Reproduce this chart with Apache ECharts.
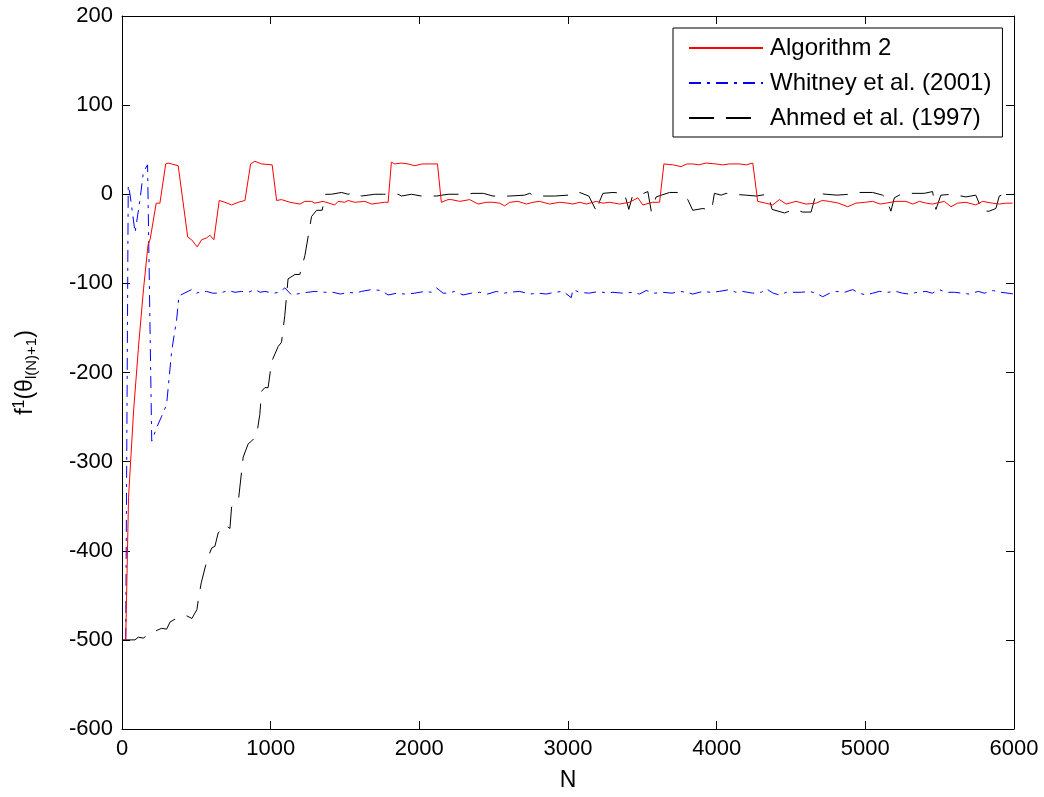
<!DOCTYPE html>
<html>
<head>
<meta charset="utf-8">
<script src="https://cdn.jsdelivr.net/npm/echarts@6/dist/echarts.min.js"></script>
<style>
  html, body { margin: 0; padding: 0; background: #fff; }
  #chart { width: 1044px; height: 797px; }
</style>
</head>
<body>
<div id="chart"></div>
<script>
// x ticks / y ticks
const xTicks = [0, 1000, 2000, 3000, 4000, 5000, 6000];
const yTicks = [-600, -500, -400, -300, -200, -100, 0, 100, 200];

// Algorithm 2
const algN = [25, 44, 78, 112, 145, 175, 190, 230, 255, 294, 310, 334, 378, 442, 468, 506, 536, 569, 591, 618,
  654, 692, 737, 782, 827, 865, 894, 939, 1010, 1040, 1073, 1129, 1196, 1230, 1275, 1297, 1353, 1431, 1454, 1499,
  1521, 1566, 1633, 1680, 1723, 1767, 1790, 1812, 1835, 1880, 1924, 1969, 2020, 2070, 2122, 2148, 2193, 2216, 2272, 2339,
  2395, 2450, 2495, 2540, 2574, 2608, 2663, 2720, 2765, 2809, 2876, 2944, 3000, 3033, 3080, 3123, 3190, 3235, 3280, 3347,
  3414, 3470, 3503, 3570, 3616, 3645, 3705, 3761, 3800, 3839, 3880, 3929, 3996, 4040, 4086, 4153, 4200, 4243, 4276, 4330,
  4377, 4422, 4467, 4534, 4601, 4669, 4710, 4758, 4820, 4881, 4937, 5000, 5049, 5100, 5138, 5206, 5273, 5320, 5363, 5410,
  5452, 5531, 5576, 5620, 5676, 5743, 5788, 5856, 5901, 5945, 5990];
const algV = [-500, -340, -243, -169, -106, -57, -50, -10, -10, 34, 35, 34, 32, -48, -51, -59, -51, -49, -46, -51,
  -7, -9, -12, -9, -7, 34, 37, 34, 33, -7, -6, -9, -11, -8, -8, -10, -8, -12, -8, -9,
  -7, -9, -8, -11, -10, -9, -9, 36, 34, 35, 34, 32, 34, 34, 34, -9, -6, -6, -8, -6,
  -11, -9, -9, -10, -13, -9, -8, -11, -9, -8, -11, -9, -10, -11, -9, -11, -8, -10, -9, -11,
  -9, -4, -12, -9, -9, 34, 33, 31, 34, 34, 33, 35, 34, 33, 34, 34, 33, 35, -8, -10,
  -12, -6, -11, -8, -11, -10, -7, -8, -10, -14, -10, -9, -8, -11, -10, -8, -8, -11, -8, -10,
  -11, -8, -14, -10, -9, -12, -8, -10, -11, -10, -10];

// Whitney et al. (2001)
const whitN = [25, 42, 54, 88, 121, 144, 172, 200, 233, 267, 300, 334, 368, 383, 468, 502, 535, 569, 610, 659,
  714, 760, 804, 850, 894, 930, 961, 1017, 1060, 1095, 1140, 1208, 1250, 1297, 1364, 1420, 1470, 1521, 1570, 1611,
  1678, 1745, 1790, 1850, 1900, 1969, 2036, 2080, 2115, 2160, 2193, 2238, 2294, 2350, 2406, 2460, 2518, 2570, 2608, 2675,
  2742, 2800, 2854, 2910, 2966, 3022, 3033, 3078, 3140, 3212, 3260, 3302, 3370, 3436, 3480, 3526, 3580, 3638, 3700, 3750,
  3800, 3839, 3907, 3960, 4019, 4086, 4130, 4175, 4243, 4300, 4333, 4380, 4422, 4470, 4512, 4570, 4624, 4670, 4713, 4760,
  4803, 4860, 4915, 4960, 5004, 5050, 5094, 5150, 5206, 5250, 5296, 5350, 5408, 5450, 5497, 5542, 5600, 5650, 5700, 5760,
  5800, 5860, 5910, 5960, 6000];
const whitV = [-500, 10, 0, -43, -6, 25, 33, -277, -262, -249, -236, -176, -140, -114, -107, -111, -109, -109, -111, -111,
  -108, -110, -109, -110, -107, -110, -109, -111, -110, -105, -113, -111, -110, -109, -110, -110, -112, -110, -111, -109,
  -107, -108, -113, -111, -112, -111, -109, -110, -105, -111, -111, -109, -113, -111, -110, -112, -109, -111, -110, -109,
  -112, -111, -112, -110, -109, -116, -107, -110, -111, -109, -111, -110, -111, -110, -112, -108, -111, -110, -111, -109,
  -110, -112, -109, -110, -109, -107, -110, -109, -111, -110, -106, -111, -113, -110, -110, -110, -109, -111, -115, -111,
  -109, -110, -107, -111, -113, -111, -109, -110, -109, -111, -112, -110, -109, -111, -107, -110, -110, -111, -112, -109,
  -111, -108, -110, -111, -112];

// Ahmed et al. (1997)
const ahmN = [0, 87, 110, 143, 177, 240, 267, 300, 323, 375, 435, 470, 504, 515, 533, 571, 603, 625, 647, 692,
  726, 737, 782, 815, 849, 871, 905, 927, 939, 961, 983, 1006, 1050, 1073, 1095, 1117, 1163, 1196, 1230, 1275,
  1309, 1346, 1369, 1409, 1476, 1521, 1566, 1611, 1700, 1760, 1857, 1880, 1947, 2014, 2115, 2193, 2305, 2361, 2430, 2495,
  2608, 2708, 2742, 2776, 2831, 2910, 3000, 3056, 3078, 3140, 3194, 3212, 3235, 3302, 3380, 3409, 3432, 3481, 3537, 3560,
  3593, 3683, 3750, 3806, 3839, 3907, 3963, 3974, 3985, 4030, 4064, 4108, 4198, 4265, 4343, 4355, 4373, 4456, 4523, 4579,
  4635, 4669, 4736, 4810, 4892, 4948, 5049, 5116, 5138, 5172, 5195, 5228, 5296, 5396, 5452, 5475, 5508, 5587, 5676, 5743,
  5788, 5833, 5878, 5901, 5934, 5990, 6000];
const ahmV = [-500, -500, -497, -498, -494, -489, -487, -488, -480, -475, -473, -476, -466, -453, -436, -411, -397, -395, -380, -371,
  -375, -351, -345, -295, -280, -277, -271, -247, -221, -217, -217, -188, -171, -166, -136, -95, -90, -90, -69, -25,
  -18, -18, 0, 0, 2, 0, 2, -2, 0, 0, 0, -2, 0, -2, -2, 0, 0, 1, 1, -2,
  -2, -1, 1, -2, -2, -2, -1, -1, 2, -2, -20, -8, 1, 2, 1, -17, -3, -1, 3, -19,
  -3, 2, 2, -6, -18, -16, -18, -10, 1, -1, 1, 0, -1, -2, 0, -6, -17, -21, -17, -20,
  -20, 1, 0, -1, 0, 2, 2, -1, -4, -19, -4, -1, 1, 1, 3, -17, -1, 0, -3, -1,
  -19, -19, -16, -2, 0, 0, 0];

const FONT = "Liberation Sans, Arial, sans-serif";

const chart = echarts.init(document.getElementById("chart"));

function pairs(xs, ys) {
  return xs.map((x, i) => [x, ys[i]]);
}

const plain = (v) => String(v);

chart.setOption({
  animation: false,
  backgroundColor: "#fff",
  textStyle: { fontFamily: FONT },
  grid: { left: 122, right: 30, top: 16, bottom: 64, show: false },
  legend: {
    orient: "vertical",
    left: 673,
    top: 28,
    padding: [8, 11, 7, 15],
    itemGap: 11,
    itemWidth: 74,
    itemHeight: 14,
    backgroundColor: "#fff",
    borderColor: "#000",
    borderWidth: 1,
    borderRadius: 0,
    itemStyle: { color: "transparent", borderWidth: 0, opacity: 0 },
    textStyle: { fontSize: 24, color: "#000", fontFamily: FONT, lineHeight: 24, padding: [0, 0, 0, 2] },
    data: ["Algorithm 2", "Whitney et al. (2001)", "Ahmed et al. (1997)"],
  },
  xAxis: [
    {
      type: "value",
      min: xTicks[0],
      max: xTicks[xTicks.length - 1],
      interval: 1000,
      name: "N",
      nameLocation: "middle",
      nameGap: 40,
      nameTextStyle: { fontSize: 23, color: "#000", fontFamily: FONT },
      axisLine: { onZero: false, lineStyle: { color: "#000", width: 1 } },
      axisTick: { inside: true, length: 8, lineStyle: { color: "#000" } },
      axisLabel: { fontSize: 22, color: "#000", margin: 9, fontFamily: FONT, formatter: plain },
      splitLine: { show: false },
    },
    {
      type: "value",
      position: "top",
      min: xTicks[0],
      max: xTicks[xTicks.length - 1],
      interval: 1000,
      axisLine: { onZero: false, lineStyle: { color: "#000", width: 1 } },
      axisTick: { inside: true, length: 8, lineStyle: { color: "#000" } },
      axisLabel: { show: false },
      splitLine: { show: false },
    },
  ],
  yAxis: [
    {
      type: "value",
      min: yTicks[0],
      max: yTicks[yTicks.length - 1],
      interval: 100,
      name: "{f|f}{sup|1}{p|(θ}{sub|l(N)+1}{p|)}",
      nameLocation: "middle",
      nameRotate: 90,
      nameGap: 82,
      nameTextStyle: {
        color: "#000",
        fontFamily: FONT,
        rich: {
          f: { fontSize: 23, fontFamily: FONT, color: "#000" },
          p: { fontSize: 23, fontFamily: FONT, color: "#000" },
          sup: { fontSize: 16, fontFamily: FONT, color: "#000", padding: [0, 0, 12, 0] },
          sub: { fontSize: 15, fontFamily: FONT, color: "#000", padding: [11, 0, 0, 0] },
        },
      },
      axisLine: { onZero: false, lineStyle: { color: "#000", width: 1 } },
      axisTick: { inside: true, length: 8, lineStyle: { color: "#000" } },
      axisLabel: { fontSize: 22, color: "#000", margin: 9, fontFamily: FONT, formatter: plain },
      splitLine: { show: false },
    },
    {
      type: "value",
      position: "right",
      min: yTicks[0],
      max: yTicks[yTicks.length - 1],
      interval: 100,
      axisLine: { onZero: false, lineStyle: { color: "#000", width: 1 } },
      axisTick: { inside: true, length: 8, lineStyle: { color: "#000" } },
      axisLabel: { show: false },
      splitLine: { show: false },
    },
  ],
  series: [
    {
      name: "Algorithm 2",
      type: "line",
      symbol: "none",
      xAxisIndex: 0,
      yAxisIndex: 0,
      lineStyle: { color: "#ff0000", width: 1 },
      itemStyle: { color: "#ff0000" },
      data: pairs(algN, algV),
      z: 3,
    },
    {
      name: "Whitney et al. (2001)",
      type: "line",
      symbol: "none",
      xAxisIndex: 0,
      yAxisIndex: 0,
      lineStyle: { color: "#0000ff", width: 1, type: [12, 6, 3, 6] },
      itemStyle: { color: "#0000ff" },
      data: pairs(whitN, whitV),
      z: 2,
    },
    {
      name: "Ahmed et al. (1997)",
      type: "line",
      symbol: "none",
      xAxisIndex: 0,
      yAxisIndex: 0,
      lineStyle: { color: "#000000", width: 1, type: [25, 12] },
      itemStyle: { color: "#000000" },
      data: pairs(ahmN, ahmV),
      z: 1,
    },
  ],
});
</script>
</body>
</html>
